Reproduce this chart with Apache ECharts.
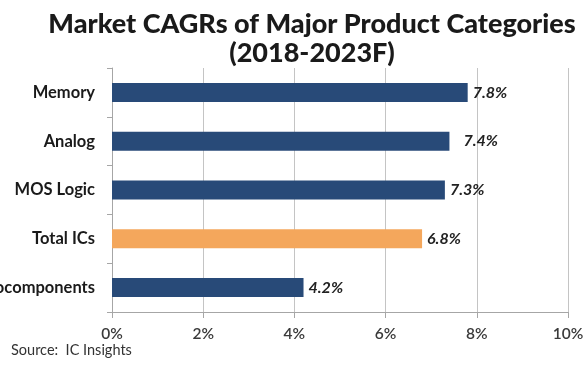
<!DOCTYPE html>
<html>
<head>
<meta charset="utf-8">
<script src="https://cdn.jsdelivr.net/npm/echarts@6/dist/echarts.min.js"></script>
<style>
html,body{margin:0;padding:0;background:#fff;}
#c{width:584px;height:367px;}
</style>
</head>
<body>
<div id="c"></div>
<script>
const categories = ["Memory", "Analog", "MOS Logic", "Total ICs", "Microcomponents"];
const values = [7.8, 7.4, 7.3, 6.8, 4.2];
const highlight = "Total ICs";
const xTicks = ["0%", "2%", "4%", "6%", "8%", "10%"];
const titleLines = ["Market CAGRs of Major Product Categories", "(2018-2023F)"];
const sourceText = "Source:  IC Insights";

const navy = "#284a78";
const orange = "#f4a75c";

const chart = echarts.init(document.getElementById("c"), null, {renderer: "canvas"});

const cats = categories.slice().reverse();
const vals = values.slice().reverse();

const data = vals.map((v, i) => {
  const item = {value: v, itemStyle: {color: cats[i] === highlight ? orange : navy}};
  if (cats[i] === "Analog") item.label = {offset: [9, 0]};
  return item;
});

chart.setOption({
  animation: false,
  backgroundColor: "#ffffff",
  title: [{
    text: titleLines.join("\n"),
    left: 307,
    textAlign: "center",
    top: 5,
    textStyle: {fontFamily: "Lato", fontWeight: 900, fontSize: 27, lineHeight: 29, color: "#1a1a1a"}
  }, {
    text: sourceText,
    left: 6,
    top: 338,
    textStyle: {fontFamily: "Lato", fontWeight: "normal", fontSize: 14.5, color: "#333333"}
  }],
  grid: {left: 112, right: 16, top: 68, bottom: 55, containLabel: false, outerBoundsMode: "none"},
  xAxis: {
    type: "value",
    min: 0, max: 10, interval: 2,
    axisLine: {show: true, lineStyle: {color: "#a6a6a6", width: 1}},
    axisTick: {show: true, length: 6, lineStyle: {color: "#a6a6a6"}},
    splitLine: {show: true, lineStyle: {color: "#c4c4c4", width: 1}},
    axisLabel: {
      margin: 14,
      fontFamily: "Lato", fontWeight: 600, fontSize: 15.5, color: "#3a3a3a",
      formatter: (v) => xTicks[Math.round(v / 2)]
    }
  },
  yAxis: {
    type: "category",
    data: cats,
    axisLine: {show: true, lineStyle: {color: "#a6a6a6", width: 1}},
    axisTick: {show: true, length: 5, lineStyle: {color: "#a6a6a6"}},
    axisLabel: {margin: 17, fontFamily: "Lato", fontWeight: "bold", fontSize: 16.5, color: "#1a1a1a"}
  },
  series: [{
    type: "bar",
    data: data,
    barWidth: 19,
    label: {
      show: true, position: "right", distance: 5,
      fontFamily: "Lato", fontWeight: "bold", fontStyle: "italic", fontSize: 16, color: "#222222",
      formatter: (p) => p.value.toFixed(1) + "%"
    }
  }]
});
</script>
</body>
</html>
